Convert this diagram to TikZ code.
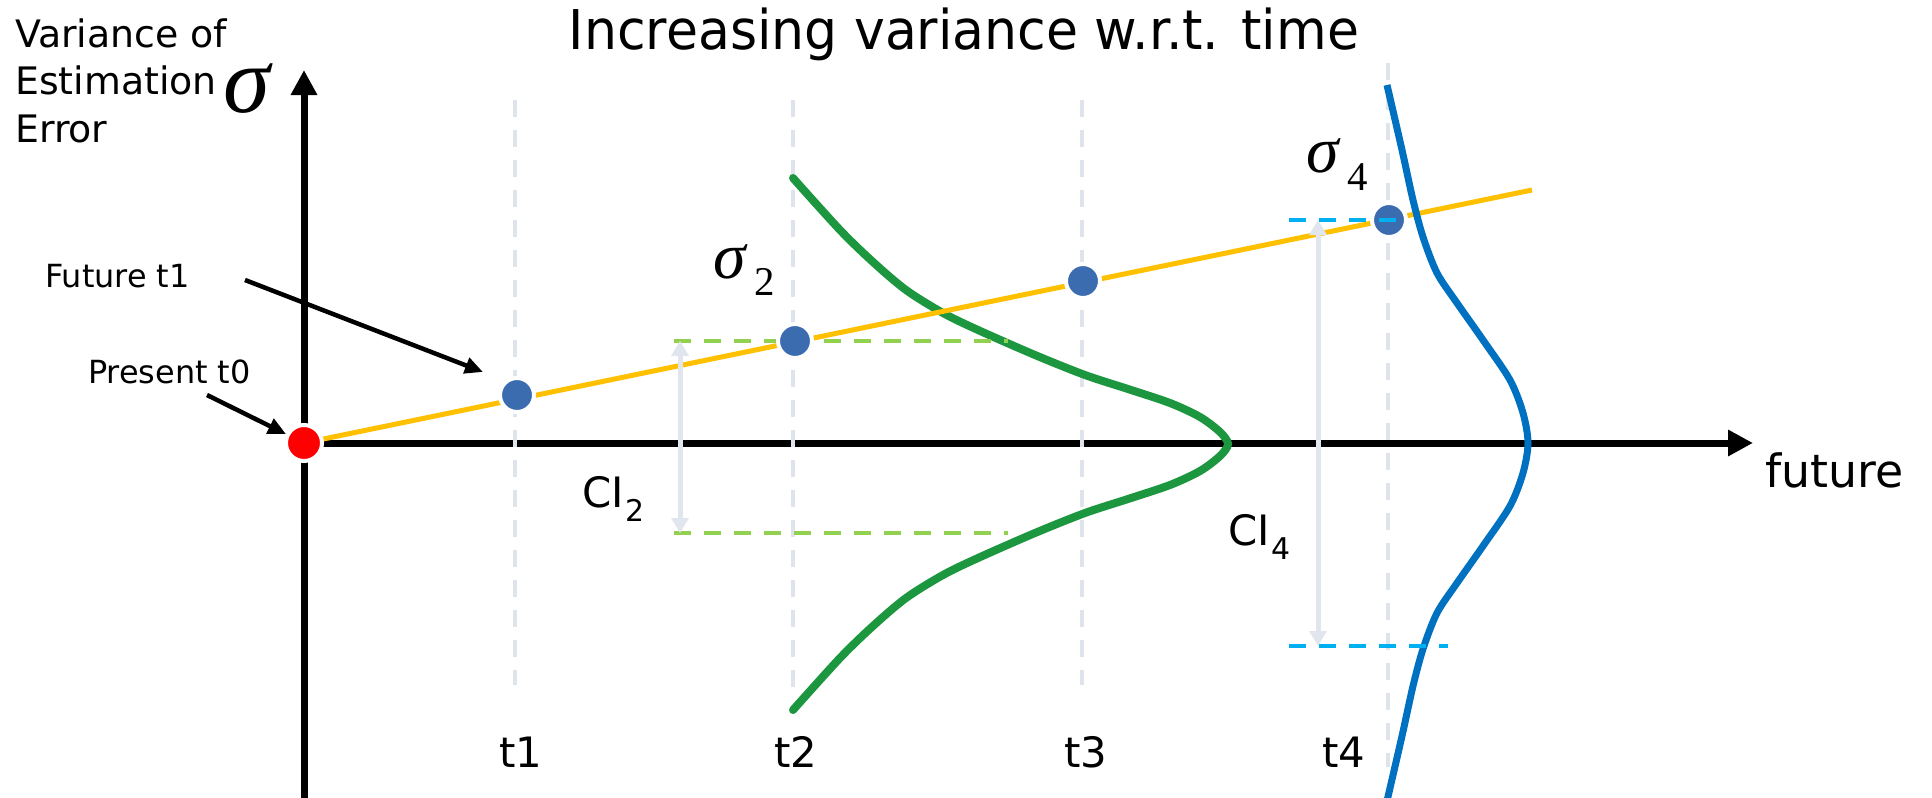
\documentclass[tikz,border=0pt]{standalone}
\usepackage{fontspec}
\setmainfont{DejaVu Sans}
\newfontfamily\titlefont[FakeStretch=0.95]{DejaVu Sans}
\newfontfamily\greekfont{Liberation Serif}
\usetikzlibrary{arrows.meta, positioning, calc}

\definecolor{trendyellow}{HTML}{FFC000}
\definecolor{dotblue}{HTML}{3B6CB0}
\definecolor{pdfgreen}{HTML}{1C963F}
\definecolor{pdfblue}{HTML}{0070C0}
\definecolor{cigreen}{HTML}{92D050}
\definecolor{cicyan}{HTML}{00B0F0}
\definecolor{tgray}{HTML}{DFE3EC}
\definecolor{arrowgray}{HTML}{E1E5EE}

\newcommand{\fs}[1]{\fontsize{#1}{#1}\selectfont}
\newcommand{\sig}[2]{{\fs{66}\greekfont\itshape σ}\hspace{9bp}\raisebox{-#2bp}{\fs{41}\greekfont #1}}
\newcommand{\ci}[1]{CI\hspace{2bp}\raisebox{-14bp}{\fs{30}#1}}

\begin{document}
\begin{tikzpicture}[
  x=1bp, y=-1bp,
  axisline/.style={line width=7bp, -{Triangle[length=25bp, width=25bp]}},
  tline/.style={draw=tgray, line width=4bp, dash pattern=on 17bp off 13bp},
  ptdot/.style={circle, fill=dotblue, draw=white, line width=4bp, minimum size=34bp, inner sep=0pt},
  cidash/.style={line width=4bp, dash pattern=on 17bp off 13bp},
  cibar/.style={draw=arrowgray, line width=5bp, {Triangle[length=15bp, width=17bp]}-{Triangle[length=15bp, width=17bp]}},
  callout/.style={line width=4.5bp, -{Triangle[length=18bp, width=16bp]}},
  lbl/.style={inner sep=0pt, font=\fs{42}},
]
  \useasboundingbox (0,0) rectangle (1932,798);

  % axes
  \coordinate (O) at (304,443);
  \coordinate (ybot) at (304,798);
  \coordinate (ytop) at (304,70);
  \coordinate (xend) at (1753,443);
  \draw[axisline] (ybot) -- (ytop);
  \draw[axisline] (O) -- (xend);

  % time marks
  \foreach \x/\top/\bot/\n in {515/100/685/1, 793/100/700/2, 1082/100/685/3, 1388/63/767/4} {
    \coordinate (ttop\n) at (\x,\top);
    \coordinate (tbot\n) at (\x,\bot);
    \draw[tline] (ttop\n) -- (tbot\n);
  }

  % distributions and trend
  \draw[pdfgreen, line width=8bp, line cap=round] plot[smooth] coordinates {
    (793,178) (840,230) (873,262) (906,290) (943,313) (978,330) (1035,355)
    (1085,375) (1128,389) (1170,403) (1200,417) (1220,432) (1228,444)
    (1220,456) (1200,471) (1170,485) (1128,499) (1085,513) (1035,533)
    (978,558) (943,575) (906,598) (873,626) (840,658) (793,710)};
  \coordinate (trendend) at (1532,190);
  \draw[trendyellow, line width=5bp] (O) -- (trendend);
  \draw[pdfblue, line width=7bp] plot[smooth] coordinates {
    (1387,85) (1402,150) (1413,200) (1423,237) (1437,273) (1457,303)
    (1483,340) (1510,380) (1523,413) (1528,443)
    (1523,473) (1510,506) (1483,546) (1457,583) (1437,613) (1423,649)
    (1413,686) (1402,736) (1387,801)};

  \coordinate (g1a) at (674,341);  \coordinate (g1b) at (1008,341);
  \coordinate (g2a) at (674,533);  \coordinate (g2b) at (1008,533);
  \draw[cidash, cigreen] (g1a) -- (g1b);
  \draw[cidash, cigreen] (g2a) -- (g2b);

  \node[ptdot] (d1) at (517,395) {};
  \node[ptdot] (d2) at (795,341) {};
  \node[ptdot] (d3) at (1083,281) {};
  \node[ptdot] (d4) at (1389,220) {};
  \node[circle, fill=red, draw=white, line width=4bp, minimum size=36bp, inner sep=0pt] (p0) at (O) {};

  \coordinate (c1a) at (1289,220); \coordinate (c1b) at (1398,220);
  \coordinate (c2a) at (1289,646); \coordinate (c2b) at (1448,646);
  \draw[cidash, cicyan] (c1a) -- (c1b);
  \draw[cidash, cicyan] (c2a) -- (c2b);

  \coordinate (ci2top) at (680,341); \coordinate (ci2bot) at (680,533);
  \coordinate (ci4top) at (1318,220); \coordinate (ci4bot) at (1318,646);
  \draw[cibar] (ci2top) -- (ci2bot);
  \draw[cibar] (ci4top) -- (ci4bot);

  % labels
  \node[inner sep=0pt, anchor=base, font=\titlefont\fs{55}] (title) at (964,50) {Increasing variance w.r.t. time};
  \node[inner sep=0pt, anchor=base west, align=left, font=\fontsize{38}{47.5}\selectfont] (ylab) at (15,142) {Variance of\\Estimation\\Error};
  \node[inner sep=0pt, anchor=base, font=\fs{95}\greekfont\itshape] (ysig) at (247,112) {σ};
  \node[inner sep=0pt, anchor=base west, font=\fs{46}] (xlab) at (1765,487) {future};

  \node[inner sep=0pt, anchor=base west] (sig2) at (713,278) {\sig{2}{17}};
  \node[inner sep=0pt, anchor=base west] (sig4) at (1306,172) {\sig{4}{18}};
  \node[lbl, anchor=base west] (ci2) at (582,507) {\ci{2}};
  \node[lbl, anchor=base west] (ci4) at (1228,545) {\ci{4}};

  \foreach \x/\n in {521/1, 796/2, 1086/3, 1344/4}
    \node[lbl, anchor=base] (tl\n) at (\x,767) {t\n};

  \node[inner sep=0pt, anchor=base west, font=\fs{32}] (futlab) at (45,287) {Future t1};
  \node[inner sep=0pt, anchor=base west, font=\fs{32}] (prelab) at (88,383) {Present t0};
  \coordinate (futtail) at (245,280);
  \coordinate (futtip) at (483,372);
  \coordinate (pretail) at (207,395);
  \draw[callout] (futtail) -- (futtip);
  \draw[callout] (pretail) -- (p0);
\end{tikzpicture}
\end{document}
